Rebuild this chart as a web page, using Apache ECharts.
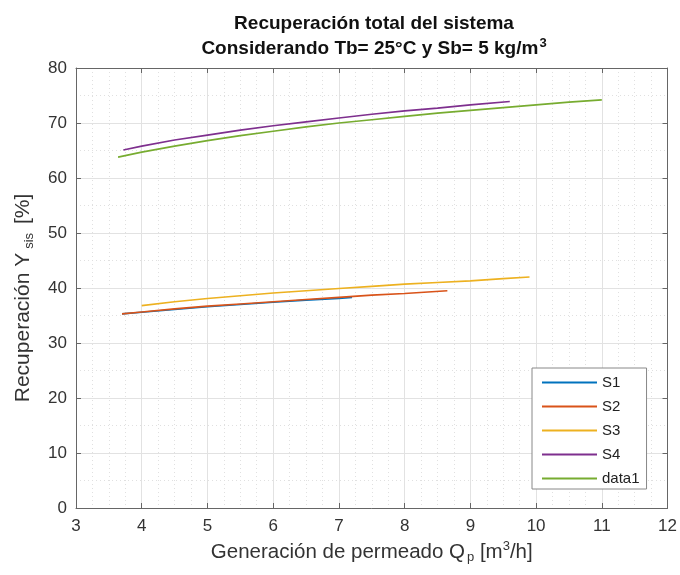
<!DOCTYPE html>
<html>
<head>
<meta charset="utf-8">
<script src="https://cdn.jsdelivr.net/npm/echarts@6/dist/echarts.min.js"></script>
<style>html,body{margin:0;padding:0;background:#fff}#c{width:680px;height:575px}</style>
</head>
<body>
<div id="c"></div>
<script>
// Data
var s1X = [3.7, 4, 4.5, 5, 5.5, 6, 6.5, 7, 7.2];
var s1Y = [35.3, 35.6, 36.1, 36.6, 37.0, 37.4, 37.8, 38.1, 38.3];
var s2X = [3.7, 4, 4.5, 5, 5.5, 6, 6.5, 7, 7.5, 8, 8.65];
var s2Y = [35.3, 35.65, 36.2, 36.7, 37.1, 37.5, 37.9, 38.3, 38.7, 39.0, 39.5];
var s3X = [4.0, 4.5, 5, 5.5, 6, 6.5, 7, 7.5, 8, 8.5, 9, 9.5, 9.9];
var s3Y = [36.8, 37.5, 38.1, 38.6, 39.1, 39.5, 39.9, 40.3, 40.7, 41.0, 41.3, 41.7, 42.0];
var s4X = [3.72, 4, 4.5, 5, 5.5, 6, 6.5, 7, 7.5, 8, 8.5, 9, 9.6];
var s4Y = [65.1, 65.8, 66.9, 67.8, 68.7, 69.5, 70.2, 70.9, 71.6, 72.2, 72.7, 73.3, 73.9];
var d1X = [3.64, 4, 4.5, 5, 5.5, 6, 6.5, 7, 7.5, 8, 8.5, 9, 9.5, 10, 10.5, 11];
var d1Y = [63.8, 64.7, 65.8, 66.8, 67.7, 68.5, 69.3, 70.0, 70.6, 71.2, 71.8, 72.3, 72.8, 73.3, 73.8, 74.2];
var seriesNames = ['S1', 'S2', 'S3', 'S4', 'data1'];
var seriesColors = ['#0072BD', '#D95319', '#EDB120', '#7E2F8E', '#77AC30'];

function pairs(xs, ys) { return xs.map(function (x, i) { return [x, ys[i]]; }); }
var allData = [pairs(s1X, s1Y), pairs(s2X, s2Y), pairs(s3X, s3Y), pairs(s4X, s4Y), pairs(d1X, d1Y)];

var font = 'Liberation Sans, Arial, sans-serif';
var axisCol = '#666';
var labelCol = '#333';

var chart = echarts.init(document.getElementById('c'));
chart.setOption({
  backgroundColor: '#fff',
  animation: false,
  title: {
    text: '{b|Recuperación total del sistema}\n{b|Considerando Tb= 25°C y Sb= 5 kg/m}{s|3}',
    left: 369, top: 6, textAlign: 'center',
    textStyle: {
      rich: {
        b: { fontFamily: font, fontWeight: 'bold', fontSize: 19, color: '#111', lineHeight: 25 },
        s: { fontFamily: font, fontWeight: 'bold', fontSize: 13, color: '#111', lineHeight: 25, padding: [0, 0, 10, 1] }
      }
    }
  },
  legend: {
    orient: 'vertical', left: 532, top: 368,
    padding: [7, 7, 3, 10], itemGap: 9, itemWidth: 55, itemHeight: 2, itemTextGap: 7,
    icon: 'rect',
    borderColor: '#888', borderWidth: 1, backgroundColor: '#fff',
    textStyle: { fontFamily: font, fontSize: 15, color: '#222' },
    data: seriesNames
  },
  grid: { left: 76, right: 12, top: 68, bottom: 67, containLabel: false },
  xAxis: [{
    type: 'value', min: 3, max: 12, interval: 1,
    name: '{a|Generación de permeado Q}{sub|p}{a| [m}{sup|3}{a|/h]}',
    nameLocation: 'middle', nameGap: 31,
    nameTextStyle: {
      rich: {
        a: { fontFamily: font, fontSize: 20.5, color: labelCol },
        sub: { fontFamily: font, fontSize: 13, color: labelCol, padding: [12, 0, 0, 2] },
        sup: { fontFamily: font, fontSize: 13, color: labelCol, padding: [0, 0, 11, 0] }
      }
    },
    axisLine: { show: true, lineStyle: { color: axisCol } },
    axisTick: { show: true, inside: true, length: 5, lineStyle: { color: axisCol } },
    axisLabel: { fontFamily: font, fontSize: 17, color: labelCol, margin: 10 },
    splitLine: { show: true, lineStyle: { color: '#e2e2e2', width: 1 } },
    minorTick: { show: false, splitNumber: 4 },
    minorSplitLine: { show: true, lineStyle: { color: '#e0e0e0', type: [1, 3], width: 1 } }
  }, {
    type: 'value', min: 3, max: 12, interval: 1, position: 'top',
    axisLine: { show: true, onZero: false, lineStyle: { color: axisCol } },
    axisTick: { show: true, inside: true, length: 5, lineStyle: { color: axisCol } },
    axisLabel: { show: false }, splitLine: { show: false }
  }],
  yAxis: [{
    type: 'value', min: 0, max: 80, interval: 10,
    name: '{a|Recuperación Y}{sub|sis}{e| [%]}',
    nameLocation: 'middle', nameGap: 40, nameRotate: 90,
    nameTextStyle: {
      rich: {
        a: { fontFamily: font, fontSize: 21, color: labelCol },
        e: { fontFamily: font, fontSize: 21, color: labelCol, padding: [0, 20, 0, 0] },
        sub: { fontFamily: font, fontSize: 13, color: labelCol, padding: [12, 3, 0, 4] }
      }
    },
    axisLine: { show: true, lineStyle: { color: axisCol } },
    axisTick: { show: true, inside: true, length: 5, lineStyle: { color: axisCol } },
    axisLabel: { fontFamily: font, fontSize: 17, color: labelCol, margin: 9 },
    splitLine: { show: true, lineStyle: { color: '#e2e2e2', width: 1 } },
    minorTick: { show: false, splitNumber: 2 },
    minorSplitLine: { show: true, lineStyle: { color: '#e0e0e0', type: [1, 3], width: 1 } }
  }, {
    type: 'value', min: 0, max: 80, interval: 10, position: 'right',
    axisLine: { show: true, onZero: false, lineStyle: { color: axisCol } },
    axisTick: { show: true, inside: true, length: 5, lineStyle: { color: axisCol } },
    axisLabel: { show: false }, splitLine: { show: false }
  }],
  series: seriesNames.map(function (n, i) {
    return {
      name: n, type: 'line', data: allData[i], showSymbol: false, symbol: 'none',
      lineStyle: { color: seriesColors[i], width: 1.6 },
      itemStyle: { color: seriesColors[i] },
      xAxisIndex: 0, yAxisIndex: 0, z: 3 + i
    };
  })
});
</script>
</body>
</html>
